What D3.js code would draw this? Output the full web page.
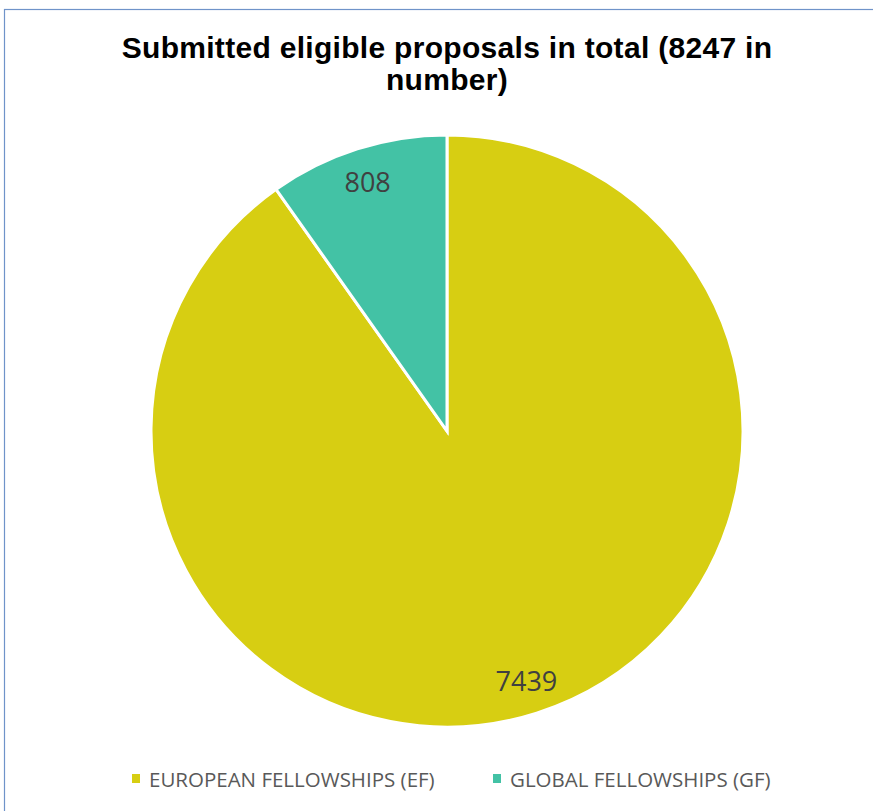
<!DOCTYPE html>
<html><head><meta charset="utf-8">
<script src="https://cdn.jsdelivr.net/npm/d3@7"></script>
<style>body{margin:0;background:#fff}svg{display:block}</style>
</head><body>
<svg id="c" width="873" height="811"></svg>
<script>
const categories = ["EUROPEAN FELLOWSHIPS (EF)", "GLOBAL FELLOWSHIPS (GF)"];
const values = [7439, 808];
const colors = ["#D7CE12", "#43C2A5"];
const titleLines = ["Submitted eligible proposals in total (8247 in", "number)"];

const svg = d3.select("#c");
svg.append("rect").attr("x", 4.5).attr("y", 9.5).attr("width", 880).attr("height", 820)
  .attr("fill", "#fff").attr("stroke", "#6F93C9").attr("stroke-width", 1.2);

svg.append("text").attr("x", 447).attr("text-anchor", "middle")
  .attr("font-family", "Liberation Sans, Arial, sans-serif").attr("font-weight", "bold")
  .attr("font-size", 30).attr("fill", "#000").attr("letter-spacing", 0.3)
  .selectAll("tspan").data(titleLines).join("tspan")
  .attr("x", 447).attr("y", (d, i) => 58 + i * 32).text(d => d);

const cx = 447, cy = 431, r = 296;
const pie = d3.pie().sort(null).value(d => d)(values);
const arc = d3.arc().innerRadius(0).outerRadius(r);
const labelArc = d3.arc().innerRadius(262).outerRadius(262);
const g = svg.append("g").attr("transform", `translate(${cx},${cy})`);
g.selectAll("path").data(pie).join("path")
  .attr("d", arc).attr("fill", (d, i) => colors[i])
  .attr("stroke", "#fff").attr("stroke-width", 3).attr("stroke-linejoin", "miter");
g.selectAll("text").data(pie).join("text")
  .attr("transform", d => `translate(${labelArc.centroid(d)})`)
  .attr("text-anchor", "middle").attr("dominant-baseline", "central")
  .attr("font-family", "Open Sans, Lato, sans-serif").attr("font-size", 27)
  .attr("fill", "#404040").text(d => d.data);

const legX = [132, 493];
const lg = svg.append("g");
categories.forEach((c, i) => {
  lg.append("rect").attr("x", legX[i]).attr("y", 774).attr("width", 8).attr("height", 9).attr("fill", colors[i]);
  lg.append("text").attr("x", legX[i] + 17).attr("y", 779).attr("dominant-baseline", "central")
    .attr("font-family", "Open Sans, Lato, sans-serif").attr("font-size", 20.5)
    .attr("fill", "#595959").text(c);
});
</script>
</body></html>
